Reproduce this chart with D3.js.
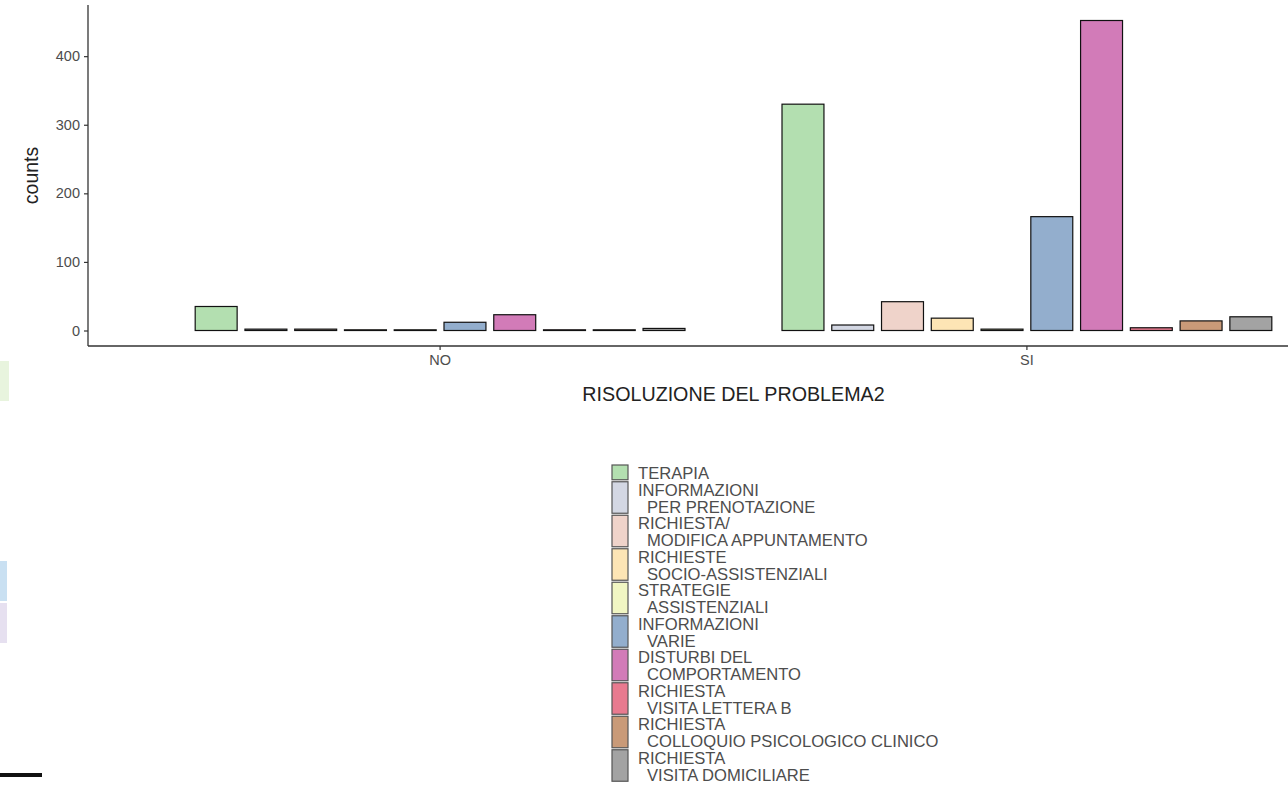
<!DOCTYPE html>
<html>
<head>
<meta charset="utf-8">
<script src="https://cdn.jsdelivr.net/npm/d3@7"></script>
<style>
  html, body { margin: 0; padding: 0; background: #fff; }
  svg { display: block; font-family: "Liberation Sans", Arial, sans-serif; }
</style>
</head>
<body>
<svg id="chart" width="1288" height="786"></svg>
<script>
// ---- data ----
const groups = ["NO", "SI"];
const categories = [
  "TERAPIA",
  "INFORMAZIONI PER PRENOTAZIONE",
  "RICHIESTA/ MODIFICA APPUNTAMENTO",
  "RICHIESTE SOCIO-ASSISTENZIALI",
  "STRATEGIE ASSISTENZIALI",
  "INFORMAZIONI VARIE",
  "DISTURBI DEL COMPORTAMENTO",
  "RICHIESTA VISITA LETTERA B",
  "RICHIESTA COLLOQUIO PSICOLOGICO CLINICO",
  "RICHIESTA VISITA DOMICILIARE"
];
const legendLines = [
  ["TERAPIA"],
  ["INFORMAZIONI", " PER PRENOTAZIONE"],
  ["RICHIESTA/", " MODIFICA APPUNTAMENTO"],
  ["RICHIESTE", " SOCIO-ASSISTENZIALI"],
  ["STRATEGIE", " ASSISTENZIALI"],
  ["INFORMAZIONI", " VARIE"],
  ["DISTURBI DEL", " COMPORTAMENTO"],
  ["RICHIESTA", " VISITA LETTERA B"],
  ["RICHIESTA", " COLLOQUIO PSICOLOGICO CLINICO"],
  ["RICHIESTA", " VISITA DOMICILIARE"]
];
const noValues = [35, 2, 2, 1, 1, 12, 23, 1, 1, 3];
const siValues = [330, 8, 42, 18, 2, 166, 452, 4, 14, 20];
const colors = ["#b3dfb0", "#d3d7e3", "#efd3ca", "#fde5b5", "#f1f6c3",
                "#93aecd", "#d27bb8", "#e87a8f", "#c99a78", "#a3a3a3"];
const yTicks = [0, 100, 200, 300, 400];
const yTitle = "counts";
const xTitle = "RISOLUZIONE DEL PROBLEMA2";

// ---- layout ----
const svg = d3.select("#chart");
const plot = { left: 88, top: 5, bottom: 346, right: 1379 };

const x0 = d3.scaleBand().domain(groups)
  .range([plot.left, plot.right]).paddingInner(0.152).paddingOuter(0.176);
const x1 = d3.scaleBand().domain(categories)
  .range([0, x0.bandwidth()]).paddingInner(0.157).paddingOuter(0.0785);
const y = d3.scaleLinear().domain([-22.6, 474.6]).range([plot.bottom, plot.top]);
const color = d3.scaleOrdinal().domain(categories).range(colors);

const rows = [];
groups.forEach((g, gi) => {
  const vals = gi === 0 ? noValues : siValues;
  categories.forEach((c, ci) => rows.push({ g, c, v: vals[ci] }));
});

// left-edge artifacts
svg.append("rect").attr("x", 0).attr("y", 361).attr("width", 9).attr("height", 40).attr("fill", "#e8f4de");
svg.append("rect").attr("x", 0).attr("y", 561).attr("width", 7).attr("height", 40).attr("fill", "#c9e0f2");
svg.append("rect").attr("x", 0).attr("y", 603).attr("width", 7).attr("height", 40).attr("fill", "#e6e0f0");
svg.append("rect").attr("x", 0).attr("y", 773).attr("width", 42).attr("height", 4).attr("fill", "#111");

// bars
svg.append("g").selectAll("rect").data(rows).join("rect")
  .attr("x", d => x0(d.g) + x1(d.c))
  .attr("width", x1.bandwidth())
  .attr("y", d => y(d.v))
  .attr("height", d => y(0) - y(d.v))
  .attr("fill", d => color(d.c))
  .attr("stroke", "#111")
  .attr("stroke-width", 1.2);

// axes
const yAxis = svg.append("g").attr("transform", `translate(${plot.left},0)`)
  .call(d3.axisLeft(y).tickValues(yTicks).tickSize(4).tickPadding(4));
const xAxis = svg.append("g").attr("transform", `translate(0,${plot.bottom})`)
  .call(d3.axisBottom(x0).tickSize(4).tickPadding(5));
[yAxis, xAxis].forEach(a => {
  a.select(".domain").attr("stroke", "#333").attr("stroke-width", 1.3);
  a.selectAll(".tick line").attr("stroke", "#333").attr("stroke-width", 1.2);
  a.selectAll(".tick text").attr("fill", "#4d4d4d").style("font-size", "14.5px")
    .style("font-family", "Liberation Sans, Arial, sans-serif");
});
yAxis.select(".domain").attr("d", `M0,${plot.top}V${plot.bottom}`);
xAxis.select(".domain").attr("d", `M${plot.left},0H${plot.right}`);

// titles
svg.append("text").attr("transform", `translate(38,${(plot.top + plot.bottom) / 2}) rotate(-90)`)
  .attr("text-anchor", "middle").attr("fill", "#222").style("font-size", "19.5px").text(yTitle);
svg.append("text").attr("x", (plot.left + plot.right) / 2).attr("y", 401)
  .attr("text-anchor", "middle").attr("fill", "#222").style("font-size", "19.7px").text(xTitle);

// legend
const lg = svg.append("g");
const lineH = 16.75;
let yy = 465;
legendLines.forEach((lines, i) => {
  const h = lines.length * lineH;
  lg.append("rect").attr("x", 612).attr("y", yy).attr("width", 16).attr("height", h - 2)
    .attr("fill", color(categories[i])).attr("stroke", "#555").attr("stroke-width", 1.2);
  lines.forEach((ln, li) => {
    lg.append("text").attr("x", li === 0 ? 638 : 647).attr("y", yy + 14 + li * lineH)
      .attr("fill", "#4d4d4d").style("font-size", "16.6px").text(ln.trim());
  });
  yy += h;
});
</script>
</body>
</html>
